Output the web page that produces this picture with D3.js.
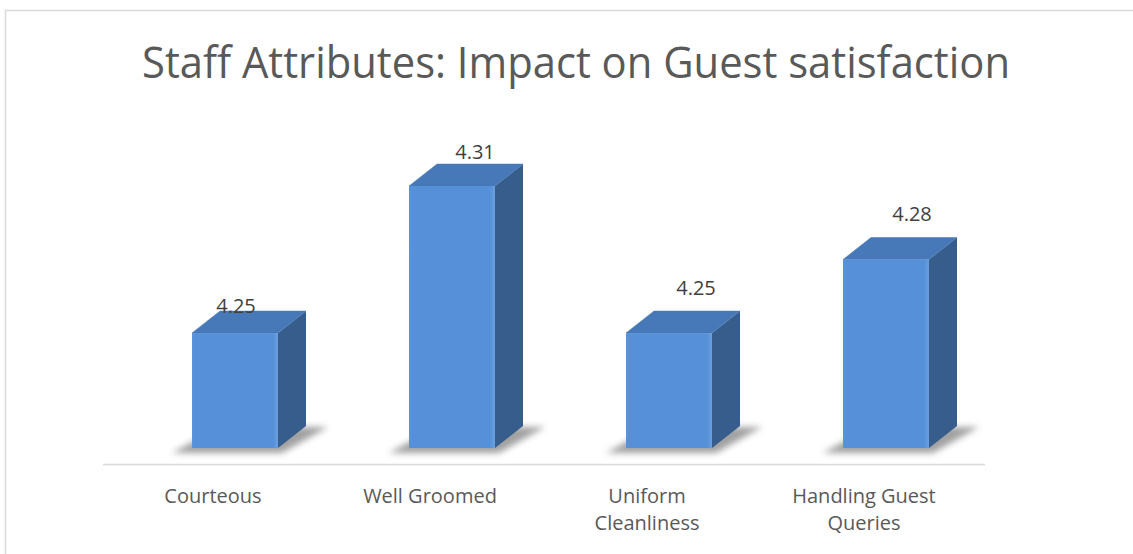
<!DOCTYPE html>
<html>
<head>
<meta charset="utf-8">
<script src="https://cdn.jsdelivr.net/npm/d3@7"></script>
<style>
  body { margin: 0; background: #fff; }
  svg { display: block; font-family: "Open Sans", "Liberation Sans", sans-serif; }
</style>
</head>
<body>
<div id="chart-container"></div>
<script>
const categories = ["Courteous", "Well Groomed", "Uniform Cleanliness", "Handling Guest Queries"];
const categoryLines = [["Courteous"], ["Well Groomed"], ["Uniform", "Cleanliness"], ["Handling Guest", "Queries"]];
const values = [4.25, 4.31, 4.25, 4.28];
const valueLabels = ["4.25", "4.31", "4.25", "4.28"];
const title = "Staff Attributes: Impact on Guest satisfaction";

const width = 1133, height = 554;
// label nudges (dx, dy) relative to the front-top of each bar, as placed in the original
const labelNudge = [[1, -20], [23, -27], [27, -38], [26, -39]];

const svg = d3.select("#chart-container")
  .append("svg")
  .attr("width", width)
  .attr("height", height);

const defs = svg.append("defs");
defs.append("filter").attr("id", "blur")
  .attr("x", "-20%").attr("y", "-50%").attr("width", "140%").attr("height", "200%")
  .append("feGaussianBlur").attr("stdDeviation", 3);

const grad = defs.append("linearGradient").attr("id", "front")
  .attr("x1", 0).attr("x2", 1).attr("y1", 0).attr("y2", 0);
grad.append("stop").attr("offset", "0%").attr("stop-color", "#5a93da");
grad.append("stop").attr("offset", "4%").attr("stop-color", "#5590d8");
grad.append("stop").attr("offset", "94%").attr("stop-color", "#5590d8");
grad.append("stop").attr("offset", "100%").attr("stop-color", "#6aa0e0");

// frame
svg.append("path")
  .attr("d", `M5.5,${height} V10.5 H${width}`)
  .attr("fill", "none")
  .attr("stroke", "#d9d9d9")
  .attr("stroke-width", 1.5);

svg.append("text")
  .attr("x", 576)
  .attr("y", 78)
  .attr("text-anchor", "middle")
  .attr("font-size", 44)
  .attr("fill", "#595959")
  .attr("textLength", 868)
  .attr("lengthAdjust", "spacingAndGlyphs")
  .text(title);

const x = d3.scaleBand()
  .domain(categories)
  .range([104.5, 972.5]);

const y = d3.scaleLinear()
  .domain([4.2031, 4.31])
  .range([448, 186]);

const barW = 86, dx = 28, dy = -22, shift = 22;
const yb = y(y.domain()[0]);

// axis line
svg.append("line")
  .attr("x1", 103).attr("x2", 985)
  .attr("y1", 464.5).attr("y2", 464.5)
  .attr("stroke", "#d9d9d9")
  .attr("stroke-width", 1.5);

const data = categories.map((c, i) => ({ c, v: values[i], label: valueLabels[i], lines: categoryLines[i], nudge: labelNudge[i] }));

const bars = svg.selectAll("g.bar")
  .data(data)
  .enter()
  .append("g")
  .attr("class", "bar");

const x0 = d => x(d.c) + x.bandwidth() / 2 + shift - barW / 2;

// floor shadow
bars.append("path")
  .attr("d", d => {
    const a = x0(d), b = a + barW;
    return `M${a - 20},${yb + 5} L${b + 4},${yb + 5} L${b + dx + 22},${yb + dy + 1} L${a + dx},${yb + dy + 1} Z`;
  })
  .attr("fill", "#555")
  .attr("opacity", 0.55)
  .attr("filter", "url(#blur)");

// side face
bars.append("path")
  .attr("d", d => {
    const b = x0(d) + barW, t = y(d.v);
    return `M${b},${t} L${b + dx},${t + dy} L${b + dx},${yb + dy} L${b},${yb} Z`;
  })
  .attr("fill", "#375d8c");

// top face
bars.append("path")
  .attr("d", d => {
    const a = x0(d), b = a + barW, t = y(d.v);
    return `M${a},${t} L${b},${t} L${b + dx},${t + dy} L${a + dx},${t + dy} Z`;
  })
  .attr("fill", "#4778b7")
  .attr("stroke", "#4778b7")
  .attr("stroke-width", 0.5)
  .attr("stroke-linejoin", "round");

// front face
bars.append("rect")
  .attr("x", d => x0(d))
  .attr("y", d => y(d.v))
  .attr("width", barW)
  .attr("height", d => yb - y(d.v))
  .attr("fill", "url(#front)");

// value labels
bars.append("text")
  .attr("x", d => x0(d) + barW / 2 + d.nudge[0])
  .attr("y", d => y(d.v) + d.nudge[1])
  .attr("text-anchor", "middle")
  .attr("font-size", 20)
  .attr("fill", "#404040")
  .text(d => d.label);

// category labels
bars.append("text")
  .attr("text-anchor", "middle")
  .attr("font-size", 20)
  .attr("fill", "#595959")
  .selectAll("tspan")
  .data(d => d.lines.map(l => ({ l, cx: x(d.c) + x.bandwidth() / 2 })))
  .enter()
  .append("tspan")
  .attr("x", t => t.cx)
  .attr("y", (t, i) => 503 + i * 27)
  .text(t => t.l);
</script>
</body>
</html>
